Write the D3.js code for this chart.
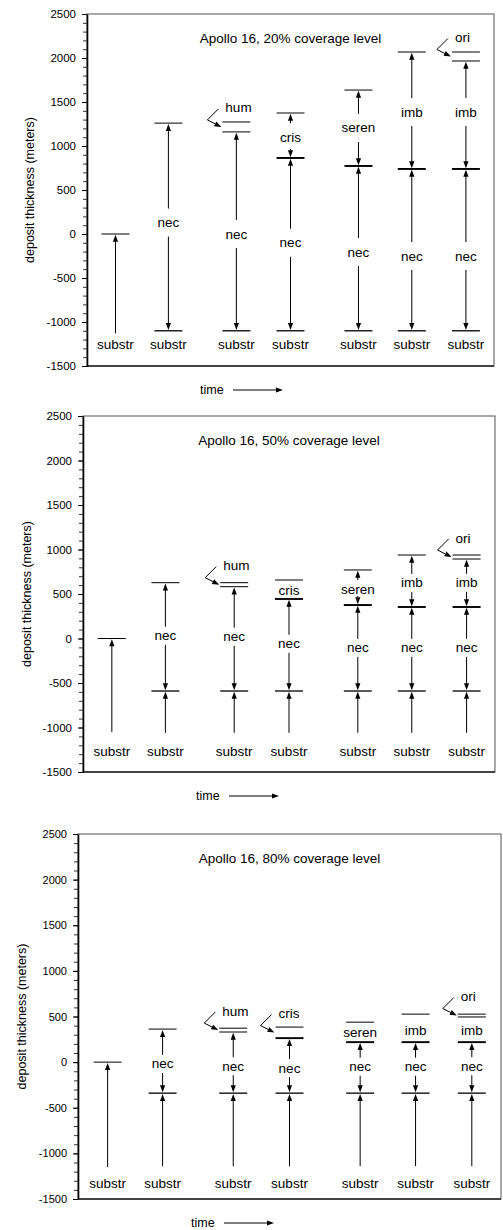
<!DOCTYPE html>
<html><head><meta charset="utf-8">
<script src="https://cdn.jsdelivr.net/npm/d3@7"></script>
<style>
body{margin:0;background:#fff}
svg{display:block}
text{font-family:"Liberation Sans",Arial,Helvetica,sans-serif;fill:#000}
</style>
</head><body>
<svg id="chart" width="503" height="1230"></svg>
<script>
// ---------------- data ----------------
const timeSteps = [0.07, 0.2, 0.367, 0.5, 0.667, 0.798, 0.931];
const yTickValues = [-1500, -1000, -500, 0, 500, 1000, 1500, 2000, 2500];
const yTickLabels = ["-1500", "-1000", "-500", "0", "500", "1000", "1500", "2000", "2500"];
const coverageLevels = ["20%", "50%", "80%"];
const layerNames = [
  ["substr"],
  ["substr", "nec"],
  ["substr", "nec", "hum"],
  ["substr", "nec", "cris"],
  ["substr", "nec", "seren"],
  ["substr", "nec", "imb"],
  ["substr", "nec", "imb", "ori"]
];
// 20% coverage
const substrBase20 = [-1130, -1100, -1100, -1100, -1100, -1100, -1100];
const layerTops20 = [[0], [-1100, 1260], [-1100, 1160, 1273], [-1100, 864, 1375], [-1100, 773, 1636], [-1100, 739, 2068], [-1100, 739, 1966, 2068]];
const labelAt20 = [[-1260], [-1260, 130], [-1260, 0, null], [-1260, -100, 1100], [-1260, -205, 1205], [-1260, -250, 1386], [-1260, -250, 1386, null]];
// 50% coverage
const substrBase50 = [-1050, -1060, -1060, -1060, -1060, -1060, -1060];
const layerTops50 = [[0], [-590, 627], [-590, 582, 627], [-590, 444, 657], [-590, 376, 770], [-590, 354, 938], [-590, 354, 893, 938]];
const labelAt50 = [[-1275], [-1275, 30], [-1275, 20, null], [-1275, -60, 535], [-1275, -105, 555], [-1275, -105, 625], [-1275, -105, 625, null]];
// 80% coverage
const substrBase80 = [-1150, -1140, -1140, -1140, -1140, -1140, -1140];
const layerTops80 = [[0], [-340, 362], [-340, 330, 372], [-340, 263, 384], [-340, 219, 438], [-340, 219, 526], [-340, 219, 495, 526]];
const labelAt80 = [[-1325], [-1325, -20], [-1325, -45, null], [-1325, -65, null], [-1325, -50, 330], [-1325, -50, 350], [-1325, -45, 350, null]];

const allBases = [substrBase20, substrBase50, substrBase80];
const allTops = [layerTops20, layerTops50, layerTops80];
const allLabels = [labelAt20, labelAt50, labelAt80];

// ---------------- layout ----------------
const layout = [
  {left: 87, top: 14, right: 494, bottom: 366, yLabelX: 30, gap: 14, tickFont: 11.5},
  {left: 83, top: 416, right: 495, bottom: 772, yLabelX: 27, gap: 9, tickFont: 11.5},
  {left: 78, top: 834, right: 501, bottom: 1199, yLabelX: 22, gap: 9, tickFont: 11}
];
const FONT = 13.5, BARHALF = 14, ALEN = 7, AHALF = 2.6;

const svg = d3.select("#chart");

function arrowHead(g, x, y, angle) {
  g.append("path")
    .attr("d", `M0,0 L${-ALEN},${-AHALF} L${-ALEN},${AHALF} Z`)
    .attr("transform", `translate(${x},${y}) rotate(${angle})`)
    .attr("fill", "#000");
}
function vline(g, x, y1, y2) {
  if (Math.abs(y2 - y1) < 0.5) return;
  g.append("line").attr("x1", x).attr("x2", x).attr("y1", y1).attr("y2", y2)
    .attr("stroke", "#000").attr("stroke-width", 1);
}
function label(g, x, y, txt, anchor) {
  g.append("text").attr("x", x).attr("y", y).attr("text-anchor", anchor || "middle")
    .attr("dominant-baseline", "central").attr("font-size", FONT).text(txt);
}

layout.forEach((L, p) => {
  const bases = allBases[p], tops = allTops[p], labs = allLabels[p];
  const y = d3.scaleLinear().domain([-1500, 2500]).range([L.bottom, L.top]);
  const x = d3.scaleLinear().domain([0, 1]).range([L.left, L.right]);
  const g = svg.append("g");

  // frame
  g.append("rect").attr("x", L.left).attr("y", L.top)
    .attr("width", L.right - L.left).attr("height", L.bottom - L.top)
    .attr("fill", "none").attr("stroke", "#555").attr("stroke-width", 1);
  g.append("line").attr("x1", L.left).attr("x2", L.right).attr("y1", L.bottom).attr("y2", L.bottom)
    .attr("stroke", "#222").attr("stroke-width", 1.3);

  // minor ticks
  const minor = g.append("g").attr("transform", `translate(${L.left},0)`)
    .call(d3.axisLeft(y).tickValues(d3.range(-1500, 2501, 100)).tickSize(4).tickSizeOuter(0).tickFormat(""));
  minor.select(".domain").remove();
  minor.selectAll("line").attr("stroke", "#333");
  // major axis
  const ax = g.append("g").attr("transform", `translate(${L.left},0)`)
    .call(d3.axisLeft(y).tickValues(yTickValues).tickSize(5).tickSizeOuter(0).tickPadding(6)
      .tickFormat((d, k) => yTickLabels[k]));
  ax.select(".domain").attr("stroke", "#000").attr("stroke-width", 1.6);
  ax.selectAll(".tick line").attr("stroke", "#000");
  ax.selectAll("text").attr("font-size", L.tickFont)
    .attr("font-family", '"Liberation Sans",Arial,sans-serif').attr("fill", "#000");

  // title
  g.append("text").attr("x", x(0.5)).attr("y", L.top + 24).attr("text-anchor", "middle")
    .attr("dominant-baseline", "central").attr("font-size", FONT)
    .text(`Apollo 16, ${coverageLevels[p]} coverage level`);

  // y label
  g.append("text").attr("transform", `translate(${L.yLabelX},${(L.top + L.bottom) / 2}) rotate(-90)`)
    .attr("text-anchor", "middle").attr("dominant-baseline", "central").attr("font-size", 12.5)
    .text("deposit thickness (meters)");

  // time arrow
  const ty = L.bottom + 24;
  g.append("text").attr("x", L.left + 113).attr("y", ty).attr("dominant-baseline", "central")
    .attr("font-size", 12.5).text("time");
  g.append("line").attr("x1", L.left + 146).attr("x2", L.left + 190).attr("y1", ty).attr("y2", ty)
    .attr("stroke", "#000").attr("stroke-width", 1);
  arrowHead(g, L.left + 196, ty, 0);

  // columns
  layerNames.forEach((names, i) => {
    const cx = x(timeSteps[i]);
    const cg = g.append("g");
    const bars = [];
    names.forEach((name, j) => {
      const top = tops[i][j];
      const bottom = j === 0 ? bases[i] : tops[i][j - 1];
      const yt = y(top), yb = y(bottom);
      const h = yb - yt;
      const last = j === names.length - 1;
      let sw = 1;
      if (!last) {
        if (j === 0) sw = 1.3;
        else {
          const nh = y(top) - y(tops[i][j + 1]);
          sw = nh >= 10.5 ? 1.9 : 1;
        }
      }
      bars.push({y: yt, sw});
      if (j === 0) {
        if (h > 1) {
          vline(cg, cx, yb, yt + ALEN);
          arrowHead(cg, cx, yt + 0.8, -90);
        }
        label(cg, cx, y(labs[i][j]), name);
        return;
      }
      if (h >= 30) {
        const ly = y(labs[i][j]);
        const upEnd = Math.max(ly - L.gap, yt + ALEN + 2);
        const dnStart = Math.min(ly + L.gap, yb - ALEN - 2);
        vline(cg, cx, yt + ALEN, upEnd);
        arrowHead(cg, cx, yt + 0.8, -90);
        vline(cg, cx, dnStart, yb - ALEN);
        arrowHead(cg, cx, yb - 0.8, 90);
        label(cg, cx, ly, name);
      } else if (h >= 15) {
        label(cg, cx, y(labs[i][j]), name);
      } else {
        const mid = (yt + yb) / 2;
        const ex = cx - BARHALF - 1, ey = mid;
        const kx = ex - 14, ky = ey - 7;
        const sx = kx + 11, sy = ky - 11;
        const ang = Math.atan2(ey - ky, ex - kx);
        const bx = ex - ALEN * Math.cos(ang), by = ey - ALEN * Math.sin(ang);
        cg.append("path").attr("d", `M${sx},${sy} L${kx},${ky} L${bx},${by}`)
          .attr("fill", "none").attr("stroke", "#000").attr("stroke-width", 1);
        arrowHead(cg, ex, ey, ang * 180 / Math.PI);
        label(cg, sx + 7, sy - 1, name, "start");
      }
    });
    bars.forEach(b => {
      cg.append("line").attr("x1", cx - BARHALF).attr("x2", cx + BARHALF)
        .attr("y1", b.y).attr("y2", b.y).attr("stroke", "#000").attr("stroke-width", b.sw);
    });
  });
});
</script>
</body></html>
